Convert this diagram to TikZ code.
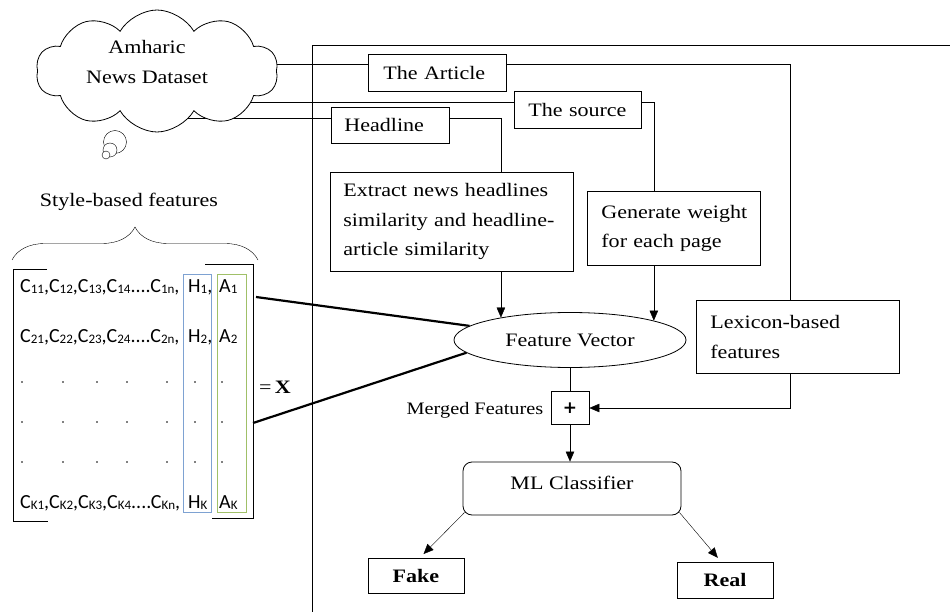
\documentclass[tikz,border=0pt]{standalone}
\usepackage{fontspec}
\setmainfont{Liberation Serif}[FakeStretch=1.16]
\newfontfamily\carl{Carlito}
\newfontfamily\djv{DejaVu Sans}
\usetikzlibrary{shapes.symbols,shapes.geometric,arrows.meta,decorations.pathreplacing,backgrounds}
\newcommand\ssb[1]{\raisebox{-1.5pt}{\fontsize{13}{13}\selectfont #1}}
\begin{document}
\begin{tikzpicture}[x=1pt,y=-1pt,font=\fontsize{19}{29.5}\selectfont,line width=0.8pt,
  bx/.style={draw,anchor=north west,inner ysep=0pt,align=left},
  arr/.style={-{Triangle[length=10pt,width=8.5pt]}},
  heavy/.style={line width=2.2pt},
  mtx/.style={anchor=base west,font=\carl\fontsize{20}{20}\selectfont,inner sep=0pt},
  small/.style={font=\fontsize{17.5}{20}\selectfont}]
\useasboundingbox (0,0) rectangle (950,612);

% outer frame
\draw (950,45) -- (312,45) -- (312,612);

% cloud
\node[cloud,cloud puffs=10,cloud puff arc=120,aspect=1.85,draw,fill=white,
  minimum width=242,minimum height=122,inner sep=0pt] (cloud) at (157,71) {};
\node[align=center] (cloudtxt) at (147,62) {Amharic\\News Dataset};

% boxes
\node[bx,minimum width=138,minimum height=37,inner xsep=15,text width=108] (art) at (368,54) {\mbox{The Article}};
\node[bx,minimum width=127,minimum height=37,inner xsep=14,text width=99] (src) at (514,91) {\mbox{The source}};
\node[bx,minimum width=118,minimum height=36,inner xsep=13,text width=92] (hl) at (331,107) {\mbox{Headline}};
\node[bx,minimum width=243,minimum height=99,inner xsep=13,text width=217] (ex) at (330,172)
  {\mbox{Extract news headlines}\\\mbox{similarity and headline-}\\\mbox{article similarity}};
\node[bx,minimum width=173,minimum height=74,inner xsep=14,text width=145] (gen) at (587,191)
  {\mbox{Generate weight}\\\mbox{for each page}};
\node[bx,minimum width=203,minimum height=73,inner xsep=14,text width=175] (lex) at (696,300)
  {\mbox{Lexicon-based}\\\mbox{features}};

\node[ellipse,draw,minimum width=232,minimum height=55,inner sep=0pt] (fv) at (570,340) {Feature Vector};
\node[draw,minimum width=38,minimum height=33,inner sep=0pt,font=\djv\fontsize{17}{17}\selectfont\bfseries] (plus) at (570,408) {+};
\node[anchor=east,small] (mrg) at (547,410) {Merged Features};
\node[draw,rounded corners=9pt,minimum width=218,inner xsep=0pt,inner ysep=0pt,text height=27pt,text depth=26pt] (ml) at (572,488.5) {ML Classifier};
\node[draw,minimum width=96,minimum height=35,inner sep=0pt,font=\fontsize{19}{22}\selectfont\bfseries] (fake) at (416,575.5) {Fake};
\node[draw,minimum width=96,minimum height=36,inner sep=0pt,font=\fontsize{19}{22}\selectfont\bfseries] (real) at (725,580) {Real};

\coordinate (lx) at (790,0);

\begin{pgfonlayer}{background}
  \draw ([yshift=8.5pt]art.west) -- ([yshift=8.5pt]art.west -| cloud.center);
  \draw ([yshift=8pt]src.west) -- ([yshift=8pt]src.west -| cloud.center);
  \draw ([yshift=7.5pt]hl.west) -- ([yshift=7.5pt]hl.west -| cloud.center);
  \draw[fill=white] (115,142) circle[radius=11.5pt];
  \draw[fill=white] (110,150) circle[radius=7pt];
  \draw[fill=white] (106,155) circle[radius=4pt];
\end{pgfonlayer}

\draw ([yshift=8.5pt]art.east) -- ([yshift=8.5pt]art.east -| lx) -- (lx |- lex.north);
\draw ([yshift=8pt]src.east) -- ([yshift=8pt]src.east -| fv.13) -- (fv.13 |- gen.north);
\draw[arr] (fv.13 |- gen.south) -- (fv.13);
\draw ([yshift=7.5pt]hl.east) -- ([yshift=7.5pt]hl.east -| fv.162) -- (fv.162 |- ex.north);
\draw[arr] (fv.162 |- ex.south) -- (fv.162);
\draw (fv.south) -- (plus.north);
\draw[arr] (lx |- lex.south) -- (lx |- plus.east) -- (plus.east);
\draw[arr] (plus.south) -- (plus.south |- ml.north);
\draw[arr,shorten >=5pt] ([shift={(2,-3)}]ml.south west) -- ([xshift=4pt]fake.north);
\draw[arr,shorten >=5pt] ([shift={(-2,-3)}]ml.south east) -- ([xshift=-4pt]real.north);

% style-based feature matrix
\node (sty) at (129,202) {Style-based features};
\draw[decorate,decoration={brace,amplitude=33pt}] (12,260) -- (258,260);
\draw (47,269) -- (13,269) -- (13,521) -- (48,521);
\draw (205,264) -- (253,264) -- (253,518) -- (212,518);
\draw[color={rgb,255:red,126;green,162;blue,210}] (183,274) rectangle (211,512);
\draw[color={rgb,255:red,160;green,192;blue,104}] (217,274) rectangle (246,512);

\node[mtx] (r1) at (20,292.5) {C\ssb{11},C\ssb{12},C\ssb{13},C\ssb{14}....C\ssb{1n},};
\node[mtx] (h1) at (188,292.5) {H\ssb{1},};
\node[mtx] (a1) at (219,292.5) {A\ssb{1}};
\node[mtx] (r2) at (20,342) {C\ssb{21},C\ssb{22},C\ssb{23},C\ssb{24}....C\ssb{2n},};
\node[mtx] (h2) at (188,342) {H\ssb{2},};
\node[mtx] (a2) at (219,342) {A\ssb{2}};
\node[mtx] (rk) at (20,508) {C\ssb{K1},C\ssb{K2},C\ssb{K3},C\ssb{K4}....C\ssb{Kn},};
\node[mtx] (hk) at (188,508) {H\ssb{K}};
\node[mtx] (ak) at (219,508) {A\ssb{K}};
\foreach \yy in {382,422,462}
  \foreach \xx in {22,63,97,127,167,195,222}
    \fill (\xx,\yy) circle[radius=0.9pt];

\node[anchor=west,inner sep=0pt] (eqx) at (259,387) {=\,\textbf{X}};

\coordinate (m1) at (256,297);
\coordinate (m2) at (253,423);
\draw[heavy] (m1) -- (fv.172);
\draw[heavy] (m2) -- (fv.187);
\end{tikzpicture}
\end{document}
